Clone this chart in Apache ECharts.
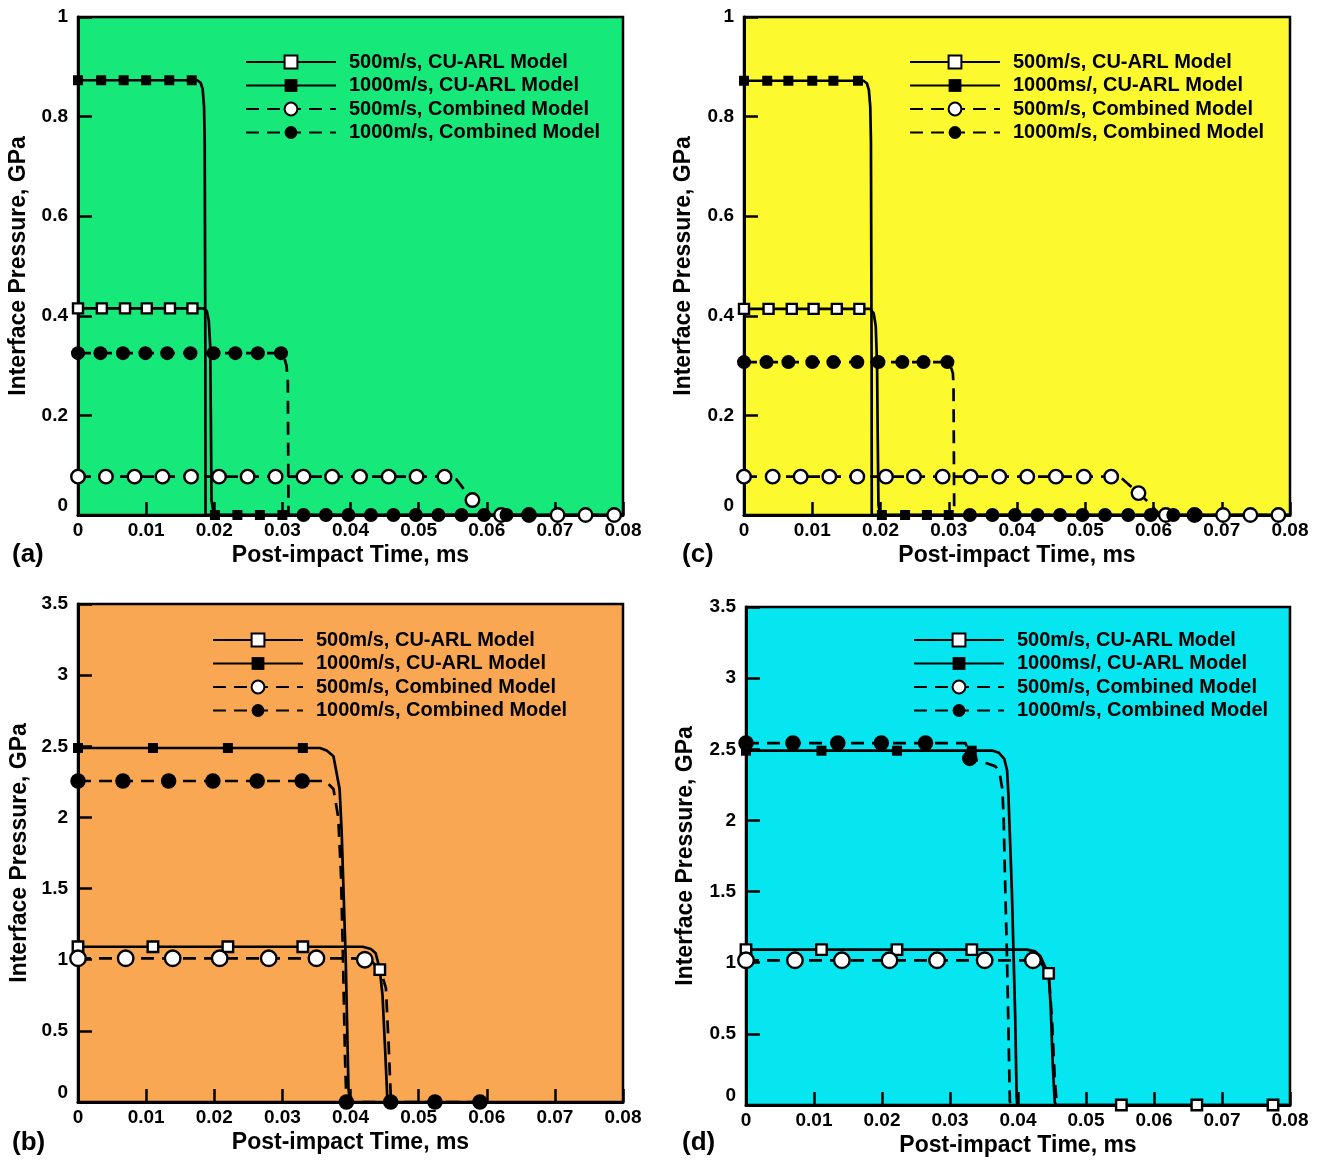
<!DOCTYPE html>
<html>
<head>
<meta charset="utf-8">
<script src="https://cdn.jsdelivr.net/npm/echarts@6/dist/echarts.min.js"></script>
<style>
html,body{margin:0;padding:0;background:#fff;}
#chart{width:1322px;height:1161px;}
</style>
</head>
<body>
<div id="chart"></div>
<script>
// ---------- tick labels ----------
const xTickLabels = ['0','0.01','0.02','0.03','0.04','0.05','0.06','0.07','0.08'];
const yTickLabelsTop = ['0','0.2','0.4','0.6','0.8','1'];
const yTickLabelsBottom = ['0','0.5','1','1.5','2','2.5','3','3.5'];

// ---------- series names ----------
const namesAB = ['500m/s, CU-ARL Model','1000m/s, CU-ARL Model','500m/s, Combined Model','1000m/s, Combined Model'];
const namesCD = ['500m/s, CU-ARL Model','1000ms/, CU-ARL Model','500m/s, Combined Model','1000m/s, Combined Model'];
const panelLabels = ['(a)','(c)','(b)','(d)'];

// ---------- panel (a) ----------
const aCu500 = [[0,0.415],[0.0184,0.415],[0.0189,0.41],[0.0192,0.39],[0.0194,0.34],[0.0195,0.2],[0.0196,0.03],[0.0199,0.004],[0.0205,0],[0.08,0]];
const aCu500Mk = [[0,0.415],[0.0035,0.415],[0.0069,0.415],[0.0101,0.415],[0.0135,0.415],[0.0168,0.415]];
const aCu1000 = [[0,0.873],[0.0175,0.873],[0.018,0.868],[0.0183,0.855],[0.0185,0.82],[0.0186,0.75],[0.0187,0.3],[0.01872,0],[0.08,0]];
const aCu1000Mk = [[0,0.873],[0.0034,0.873],[0.0067,0.873],[0.01,0.873],[0.0134,0.873],[0.0167,0.873],[0.0201,0],[0.0234,0],[0.0267,0],[0.03,0]];
const aCb500 = [[0,0.077],[0.0545,0.077],[0.0555,0.072],[0.0562,0.06],[0.0571,0.042],[0.0579,0.03],[0.0588,0.016],[0.0598,0.004],[0.0606,0],[0.08,0]];
const aCb500Mk = [[0,0.077],[0.0041,0.077],[0.0083,0.077],[0.0124,0.077],[0.0166,0.077],[0.0207,0.077],[0.0249,0.077],[0.029,0.077],[0.0331,0.077],[0.0373,0.077],[0.0414,0.077],[0.0456,0.077],[0.0497,0.077],[0.0538,0.077],[0.0579,0.03],[0.0621,0],[0.0662,0],[0.0704,0],[0.0745,0],[0.0787,0]];
const aCb1000 = [[0,0.325],[0.0298,0.325],[0.0303,0.315],[0.0306,0.3],[0.0308,0.27],[0.0309,0],[0.0665,0]];
const aCb1000Mk = [[0,0.325],[0.0033,0.325],[0.0066,0.325],[0.0099,0.325],[0.0131,0.325],[0.0165,0.325],[0.0199,0.325],[0.0231,0.325],[0.0264,0.325],[0.0298,0.325],[0.0331,0],[0.0364,0],[0.0397,0],[0.043,0],[0.0463,0],[0.0496,0],[0.0529,0],[0.0563,0],[0.0596,0],[0.0629,0],[0.0662,0]];

// ---------- panel (c) ----------
const cCu500 = [[0,0.414],[0.0185,0.414],[0.019,0.405],[0.0193,0.38],[0.0195,0.3],[0.0196,0.15],[0.0197,0.02],[0.0199,0.004],[0.0204,0],[0.08,0]];
const cCu500Mk = [[0,0.414],[0.0036,0.414],[0.007,0.414],[0.0102,0.414],[0.0136,0.414],[0.0169,0.414]];
const cCu1000 = [[0,0.872],[0.0175,0.872],[0.018,0.867],[0.0183,0.853],[0.0185,0.82],[0.0186,0.75],[0.0187,0.3],[0.01872,0],[0.08,0]];
const cCu1000Mk = [[0,0.872],[0.0034,0.872],[0.0065,0.872],[0.01,0.872],[0.0131,0.872],[0.0167,0.872],[0.0202,0],[0.0236,0],[0.0268,0],[0.03,0]];
const cCb500 = [[0,0.077],[0.0545,0.077],[0.0555,0.072],[0.0563,0.062],[0.0578,0.044],[0.0593,0.025],[0.0603,0.01],[0.061,0],[0.08,0]];
const cCb500Mk = [[0,0.077],[0.0042,0.077],[0.0083,0.077],[0.0125,0.077],[0.0166,0.077],[0.0208,0.077],[0.0249,0.077],[0.0291,0.077],[0.0332,0.077],[0.0374,0.077],[0.0415,0.077],[0.0457,0.077],[0.0498,0.077],[0.0538,0.077],[0.0578,0.044],[0.0618,0],[0.066,0],[0.0702,0],[0.0742,0],[0.0783,0]];
const cCb1000 = [[0,0.307],[0.0298,0.307],[0.0303,0.298],[0.0306,0.285],[0.0307,0.26],[0.0308,0],[0.0665,0]];
const cCb1000Mk = [[0,0.307],[0.0033,0.307],[0.0065,0.307],[0.01,0.307],[0.0131,0.307],[0.0166,0.307],[0.0197,0.307],[0.0232,0.307],[0.0263,0.307],[0.0298,0.307],[0.0331,0],[0.0364,0],[0.0397,0],[0.043,0],[0.0463,0],[0.0496,0],[0.0529,0],[0.0563,0],[0.0596,0],[0.0629,0],[0.0662,0]];

// ---------- panel (b) ----------
const bCu500 = [[0,1.091],[0.0418,1.091],[0.043,1.075],[0.0437,1.045],[0.0441,0.97],[0.0443,0.93],[0.0447,0.75],[0.0451,0.35],[0.0454,0.03],[0.0456,0]];
const bCu500Mk = [[0,1.091],[0.011,1.091],[0.022,1.091],[0.033,1.091],[0.0443,0.93]];
const bCu1000 = [[0,2.488],[0.0355,2.488],[0.0365,2.47],[0.0375,2.43],[0.0384,2.2],[0.0387,1.9],[0.0393,1.0],[0.0397,0.1],[0.0399,0]];
const bCu1000Mk = [[0,2.488],[0.011,2.488],[0.022,2.488],[0.033,2.488]];
const bCb500 = [[0,1.01],[0.0405,1.01],[0.0421,1.0],[0.0432,0.985],[0.044,0.94],[0.0447,0.88],[0.0452,0.8],[0.0456,0.4],[0.0459,0.05],[0.046,0]];
const bCb500Mk = [[0,1.01],[0.007,1.01],[0.0139,1.01],[0.0208,1.01],[0.028,1.01],[0.035,1.01],[0.0421,1.0]];
const bCb1000 = [[0,2.256],[0.0363,2.256],[0.0375,2.2],[0.0382,2.0],[0.0386,1.6],[0.0389,1.0],[0.0392,0.3],[0.0394,0],[0.059,0]];
const bCb1000Mk = [[0,2.256],[0.0066,2.256],[0.0133,2.256],[0.0198,2.256],[0.0263,2.256],[0.0329,2.256],[0.0394,0],[0.0459,0],[0.0524,0],[0.059,0]];

// ---------- panel (d) ----------
const dCu500 = [[0,1.092],[0.0413,1.092],[0.0425,1.08],[0.0433,1.045],[0.044,0.97],[0.0445,0.925],[0.0448,0.7],[0.0451,0.3],[0.0454,0.02],[0.0456,0],[0.08,0]];
const dCu500Mk = [[0,1.092],[0.0111,1.092],[0.0222,1.092],[0.0332,1.092],[0.0445,0.925],[0.0552,0],[0.0663,0],[0.0775,0]];
const dCu1000 = [[0,2.49],[0.0363,2.49],[0.0372,2.475],[0.038,2.43],[0.0384,2.35],[0.0386,2.17],[0.0391,1.5],[0.0396,0.6],[0.0398,0.05],[0.0399,0]];
const dCu1000Mk = [[0,2.49],[0.0111,2.49],[0.0222,2.49],[0.0332,2.49]];
const dCb500 = [[0,1.017],[0.0422,1.017],[0.0432,1.005],[0.044,0.96],[0.0446,0.87],[0.045,0.6],[0.0454,0.2],[0.0457,0]];
const dCb500Mk = [[0,1.017],[0.0072,1.017],[0.0141,1.017],[0.0211,1.017],[0.0281,1.017],[0.0351,1.017],[0.0422,1.017]];
const dCb1000 = [[0,2.544],[0.0323,2.544],[0.0329,2.436],[0.0355,2.4],[0.0367,2.38],[0.0373,2.33],[0.0377,2.22],[0.0379,2.0],[0.038,1.77],[0.0384,1.0],[0.0388,0.03],[0.0389,0]];
const dCb1000Mk = [[0,2.544],[0.0069,2.544],[0.0135,2.544],[0.0199,2.544],[0.0264,2.544],[0.0329,2.436]];

// ---------- build ----------
const FONT = '"Liberation Sans", Arial, Helvetica, sans-serif';
const grids = [
  {left:78, top:17, width:545, height:498, backgroundColor:'#17E87A'},
  {left:744, top:17, width:546, height:498, backgroundColor:'#FCF92F'},
  {left:78, top:604, width:545, height:498, backgroundColor:'#F9A752'},
  {left:746, top:607, width:544, height:498, backgroundColor:'#05E6F0'}
].map(g => Object.assign({show:true, borderColor:'#000', borderWidth:2.5, containLabel:false}, g));

function mkData(curve, marks){
  const pts = curve.map(p => ({value:p, symbol:'none'}));
  marks.forEach(p => pts.push({value:p}));
  pts.sort((a,b) => a.value[0]-b.value[0]);
  return pts;
}

const styles = [
  {dashed:false, symbol:'rect', fill:'#fff', sizeTop:10, sizeBot:10.5},
  {dashed:false, symbol:'rect', fill:'#000', sizeTop:10, sizeBot:10},
  {dashed:true, symbol:'circle', fill:'#fff', sizeTop:13.5, sizeBot:15.5},
  {dashed:true, symbol:'circle', fill:'#000', sizeTop:14, sizeBot:15.5}
];

const panels = [
  {names:namesAB, curves:[aCu500,aCu1000,aCb500,aCb1000], marks:[aCu500Mk,aCu1000Mk,aCb500Mk,aCb1000Mk], top:true},
  {names:namesCD, curves:[cCu500,cCu1000,cCb500,cCb1000], marks:[cCu500Mk,cCu1000Mk,cCb500Mk,cCb1000Mk], top:true},
  {names:namesAB, curves:[bCu500,bCu1000,bCb500,bCb1000], marks:[bCu500Mk,bCu1000Mk,bCb500Mk,bCb1000Mk], top:false},
  {names:namesCD, curves:[dCu500,dCu1000,dCb500,dCb1000], marks:[dCu500Mk,dCu1000Mk,dCb500Mk,dCb1000Mk], top:false}
];

const xAxes = [], yAxes = [], series = [], legends = [], titles = [];
const legendPos = [[245,52],[909,52],[212,630],[913,630]];
const labelPos = [[12,542],[682,542],[12,1130],[682,1130]];
const yNameGap = [48,49,47,49];

panels.forEach((p, gi) => {
  xAxes.push({
    gridIndex:gi, type:'value', min:0, max:0.08, interval:0.01,
    name:'Post-impact Time, ms', nameLocation:'middle', nameGap:29,
    nameTextStyle:{fontSize:23, fontWeight:'bold', color:'#000', fontFamily:FONT},
    axisLine:{show:true, onZero:false, lineStyle:{color:'#000', width:3}},
    axisTick:{show:true, inside:true, length:13, lineStyle:{color:'#000', width:2.5}},
    axisLabel:{color:'#000', fontSize:19, fontWeight:'bold', fontFamily:FONT, margin:6,
      formatter: v => xTickLabels[Math.round(v/0.01)]},
    splitLine:{show:false}
  });
  const yLabels = p.top ? yTickLabelsTop : yTickLabelsBottom;
  const step = p.top ? 0.2 : 0.5;
  yAxes.push({
    gridIndex:gi, type:'value', min:0, max:p.top?1:3.5, interval:step,
    name:'Interface Pressure, GPa', nameLocation:'middle', nameGap:yNameGap[gi],
    nameTextStyle:{fontSize:23, fontWeight:'bold', color:'#000', fontFamily:FONT},
    axisLine:{show:true, onZero:false, lineStyle:{color:'#000', width:3}},
    axisTick:{show:true, inside:true, length:14, lineStyle:{color:'#000', width:2.5}},
    axisLabel:{color:'#000', fontSize:19, fontWeight:'bold', fontFamily:FONT, margin:10,
      verticalAlignMinLabel:'bottom',
      formatter: v => yLabels[Math.round(v/step)]},
    splitLine:{show:false}
  });
  p.names.forEach((nm, si) => {
    const st = styles[si];
    series.push({
      type:'line', name:nm, xAxisIndex:gi, yAxisIndex:gi,
      data: mkData(p.curves[si], p.marks[si]),
      symbol: st.symbol, symbolSize: p.top ? st.sizeTop : st.sizeBot,
      showSymbol:true, showAllSymbol:true, clip:false, smooth:false,
      lineStyle:{color:'#000', width:2.7, type: st.dashed ? [13,8] : 'solid'},
      itemStyle:{color:st.fill, borderColor:'#000', borderWidth: st.fill==='#fff' ? 2.4 : 0, opacity:1},
      emphasis:{disabled:true}, animation:false
    });
  });
  legends.push({
    orient:'vertical', left:legendPos[gi][0], top:legendPos[gi][1],
    data:p.names, itemWidth:90, itemHeight:16, itemGap:3.5, padding:0,
    selectedMode:false, backgroundColor:'transparent',
    textStyle:{fontSize:20, fontWeight:'bold', color:'#000', fontFamily:FONT, padding:[0,0,0,8]}
  });
  titles.push({
    text:panelLabels[gi], left:labelPos[gi][0], top:labelPos[gi][1], padding:0,
    textStyle:{fontSize:26, fontWeight:'bold', color:'#000', fontFamily:FONT}
  });
});

const chart = echarts.init(document.getElementById('chart'), null, {renderer:'canvas'});
chart.setOption({
  backgroundColor:'#fff',
  animation:false,
  title:titles,
  legend:legends,
  grid:grids,
  xAxis:xAxes,
  yAxis:yAxes,
  series:series
});
</script>
</body>
</html>
